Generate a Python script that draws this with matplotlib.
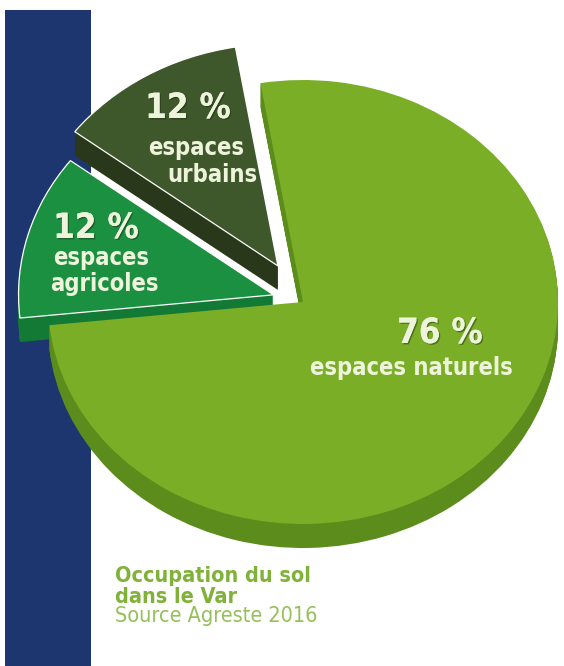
import numpy as np
import matplotlib.pyplot as plt
import matplotlib.patheffects as pe
from matplotlib.patches import Rectangle

# data
categories = ["espaces naturels", "espaces urbains", "espaces agricoles"]
shares = [76, 12, 12]
pct_labels = ["76 %", "12 %", "12 %"]
name_labels = [["espaces naturels"], ["espaces", "urbains"], ["espaces", "agricoles"]]
title_lines = ["Occupation du sol", "dans le Var"]
source_text = "Source Agreste 2016"

# styling
top_colors = ["#7aae26", "#3e572b", "#1a9040"]
side_colors = ["#5b8c1c", "#29381b", "#137a36"]
explode = [0, 0.19, 0.12]
draw_rank = [2, 0, 1]  # urbains first, then agricoles, naturels on top
W, H = 564, 666
cx, cy = 303, 302      # pie centre, pixels from top-left
rx, ry = 255, 222      # ellipse radii in pixels
depth = 24

# label placement (pixels from top-left): pct (x, baseline), name lines (x, baseline)
pct_pos = [(440, 343), (188, 118), (96, 238)]
name_pos = [[(411, 375)], [(196, 155), (212, 182)], [(101, 265), (104, 291)]]

txt_color = "#eef4dc"
font = dict(family="DejaVu Sans", fontstretch="condensed")

fig = plt.figure(figsize=(W / 100, H / 100), dpi=100)
bg = fig.add_axes([0, 0, 1, 1])
bg.set_xlim(0, W)
bg.set_ylim(H, 0)
bg.axis("off")
bg.add_patch(Rectangle((5, 10), 86, H - 10, color="#1e3670", lw=0))

ax = fig.add_axes([0, 0, 1, 1], zorder=2)
ax.patch.set_alpha(0)

# extruded sides: stack of darker pies shifted down
for d in np.linspace(depth, 1, 24):
    wedges, _ = ax.pie(shares, colors=side_colors, explode=explode,
                       startangle=186, center=(0, -d / ry),
                       wedgeprops=dict(linewidth=0))
    for w, r in zip(wedges, draw_rank):
        w.set_zorder(10 * r + 1)

wedges, _ = ax.pie(shares, colors=top_colors, explode=explode, startangle=186,
                   wedgeprops=dict(linewidth=0.9, edgecolor="white"))
for w, r in zip(wedges, draw_rank):
    w.set_zorder(10 * r + 5)
wedges[0].set_linewidth(0)

ax.set_aspect("auto")
ax.set_xlim(-cx / rx, (W - cx) / rx)
ax.set_ylim(-(H - cy) / ry, cy / ry)
ax.axis("off")

shadow = [pe.withSimplePatchShadow(offset=(1, -1), shadow_rgbFace="#1a2a10", alpha=0.45), pe.Normal()]
for i in range(len(shares)):
    x, y = pct_pos[i]
    ax.text(x, y, pct_labels[i], transform=bg.transData, ha="center", va="baseline",
            fontsize=25, fontweight="bold", color=txt_color, zorder=100,
            path_effects=shadow, **font)
    for line, (x, y) in zip(name_labels[i], name_pos[i]):
        ax.text(x, y, line, transform=bg.transData, ha="center", va="baseline",
                fontsize=17, fontweight="bold", color=txt_color, zorder=100, **font)

bg.text(115, 582, title_lines[0], ha="left", va="baseline", fontsize=15.5,
        fontweight="bold", color="#80b23a", **font)
bg.text(115, 603, title_lines[1], ha="left", va="baseline", fontsize=15.5,
        fontweight="bold", color="#80b23a", **font)
bg.text(115, 622, source_text, ha="left", va="baseline", fontsize=15.5,
        color="#95c05a", **font)

fig.savefig("out.png", dpi=100)
